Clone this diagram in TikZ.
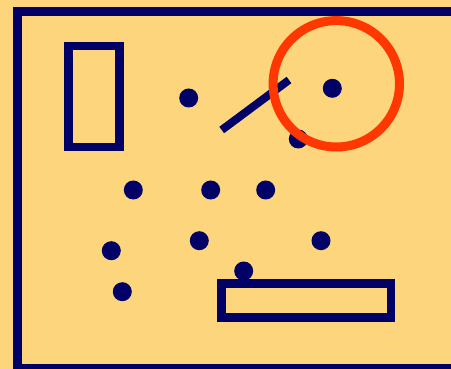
\documentclass[tikz,border=0pt]{standalone}
\usetikzlibrary{calc}
\definecolor{sand}{RGB}{253,213,124}
\definecolor{navy}{RGB}{0,0,102}
\definecolor{flame}{RGB}{255,55,0}

\begin{document}
\begin{tikzpicture}[
		x=1pt,
		y=-1pt,
		line cap=butt,
		line join=miter,
		navyline/.style={draw=navy, line width=8.5pt},
		dot/.style={fill=navy}
		]
		
		%------------------------------------------------------------------
		% Canvas
		%------------------------------------------------------------------
		\fill[sand] (0,0) rectangle (451,369);
		\useasboundingbox (0,0) rectangle (451,369);
		\clip (0,0) rectangle (451,369);
		
		%------------------------------------------------------------------
		% Coordinates
		%------------------------------------------------------------------
		\coordinate (frameTL) at ( 17.5,  11.5);
		\coordinate (frameBR) at (470.0, 368.0);
		
		\coordinate (tallTL)  at ( 68.3,  45.8);
		\coordinate (tallBR)  at (119.3, 147.2);
		
		\coordinate (flatTL)  at (221.3, 283.3);
		\coordinate (flatBR)  at (391.0, 317.3);
		
		\coordinate (barA)    at (221.7, 130.0);
		\coordinate (barB)    at (289.0,  80.0);
		
		\coordinate (ring)    at (336.3,  83.8);
		\def\Rr{63.2pt}
		
		%------------------------------------------------------------------
		% Frame and boxes
		%------------------------------------------------------------------
		\draw[navyline] (frameTL) rectangle (frameBR);
		\draw[navyline] (tallTL) rectangle (tallBR);
		\draw[navyline] (flatTL) rectangle (flatBR);
		
		% slanted bar
		\draw[navyline, line width=8pt] (barA) -- (barB);
		
		%------------------------------------------------------------------
		% Dots
		%------------------------------------------------------------------
		\foreach \p in {(188.7,98.0), (332.3,88.3), (298.3,139.0),
			(133.3,190.0), (210.7,190.0), (265.7,190.0),
			(199.3,240.7), (321.0,240.7), (111.3,250.7),
			(243.7,271.0), (122.3,291.7)}{
			\fill[dot] \p circle (9.5pt);
		}
		
		%------------------------------------------------------------------
		% Red ring on top
		%------------------------------------------------------------------
		\draw[flame, line width=9pt] (ring) circle (\Rr);
		
	\end{tikzpicture}
\end{document}
